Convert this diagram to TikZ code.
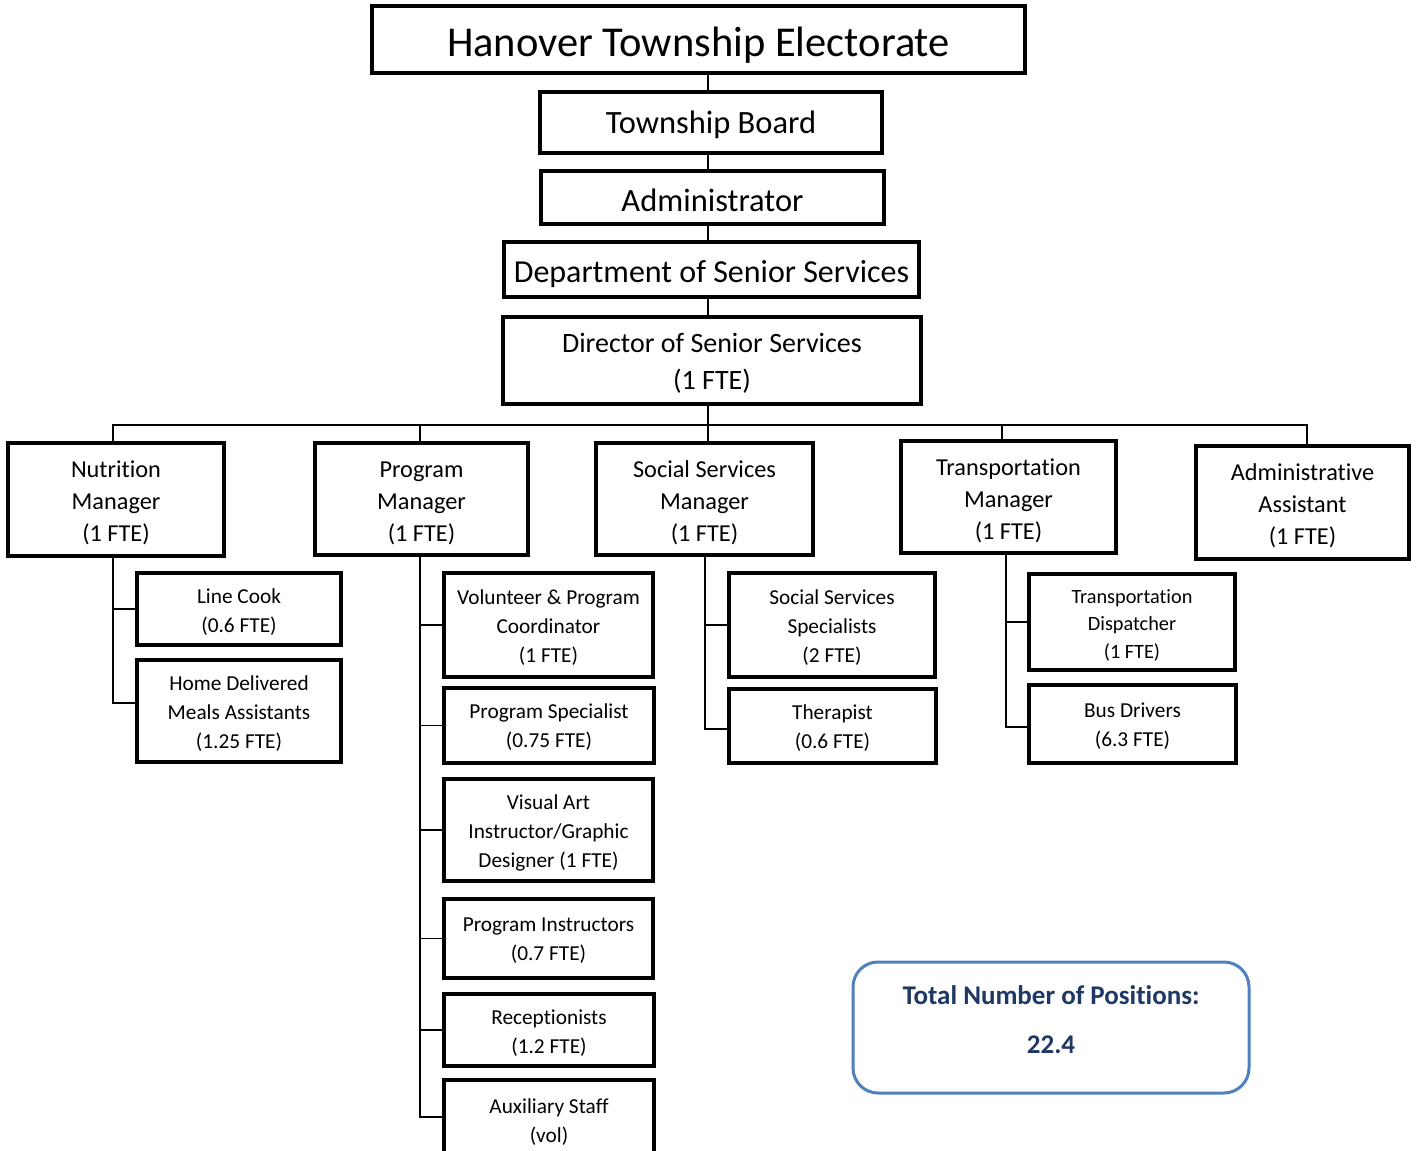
\documentclass[tikz,border=0pt]{standalone}
\usepackage{fontspec}
\setmainfont{Carlito}[Ligatures=NoCommon]
% centred block of lines, moved down by #1 without changing its size
\newcommand{\boxtext}[2][0pt]{\raisebox{-#1}[\height][\depth]{\begin{tabular}{@{}c@{}}#2\end{tabular}}}
\begin{document}
\begin{tikzpicture}[x=1pt,y=-1pt,
  box/.style={draw=black,line width=3.5pt,fill=white,rectangle,inner sep=0pt},
  topbox/.style={box,font=\fontsize{32.5}{40}\selectfont},
  mgr/.style={box,line width=3.8pt,font=\fontsize{24.3}{32}\selectfont},
  sub/.style={box,line width=3.3pt,font=\fontsize{21.3}{29}\selectfont},
  link/.style={draw=black,line width=1.8pt},
  total/.style={draw={rgb,255:red,79;green,129;blue,189},line width=3pt,rounded corners=25pt,
    rectangle,inner sep=0pt,text={rgb,255:red,31;green,56;blue,100},
    font=\fontsize{27}{49}\selectfont\bfseries}]
\clip (0,0) rectangle (1417,1151);
\fill[white] (0,0) rectangle (1417,1151);

% chain of command
\node[topbox,font=\fontsize{42.5}{52}\selectfont,minimum width=653,minimum height=67] (elect) at (698.5,39.5) {\boxtext[7pt]{Hanover Township Electorate}};
\node[topbox,minimum width=342,minimum height=61] (board) at (711,122.5) {\boxtext[3pt]{Township Board}};
\node[topbox,minimum width=343,minimum height=53] (admin) at (712.5,197.5) {\boxtext[6pt]{Administrator}};
\node[topbox,font=\fontsize{32}{40}\selectfont,minimum width=415,minimum height=55] (dept) at (711.5,269.5) {\boxtext[4.5pt]{Department of Senior Services}};
\node[topbox,font=\fontsize{28}{37}\selectfont,minimum width=418,minimum height=87] (dir) at (712,360.5) {\boxtext[3pt]{Director of Senior Services\\(1 FTE)}};

% managers
\node[mgr,minimum width=216,minimum height=113] (nm) at (116,499.5) {\boxtext[4pt]{Nutrition\\Manager\\(1 FTE)}};
\node[mgr,minimum width=213,minimum height=112] (pm) at (421.5,499) {\boxtext[4pt]{Program\\Manager\\(1 FTE)}};
\node[mgr,minimum width=217,minimum height=112] (sm) at (704.5,499) {\boxtext[4pt]{Social Services\\Manager\\(1 FTE)}};
\node[mgr,minimum width=215,minimum height=112] (tm) at (1008.5,497) {\boxtext[4pt]{Transportation\\Manager\\(1 FTE)}};
\node[mgr,minimum width=213,minimum height=113] (aa) at (1302.5,502.5) {\boxtext[4pt]{Administrative\\Assistant\\(1 FTE)}};

% staff
\node[sub,minimum width=204,minimum height=72] (lc) at (239,609) {\boxtext[3pt]{Line Cook\\(0.6 FTE)}};
\node[sub,minimum width=204,minimum height=102] (hd) at (239,711) {\boxtext[3pt]{Home Delivered\\Meals Assistants\\(1.25 FTE)}};

\node[sub,minimum width=209,minimum height=104] (vpc) at (548.5,625) {\boxtext[3pt]{Volunteer \& Program\\Coordinator\\(1 FTE)}};
\node[sub,minimum width=210,minimum height=75] (ps) at (549,725.5) {\boxtext[2pt]{Program Specialist\\(0.75 FTE)}};
\node[sub,minimum width=209,minimum height=102] (va) at (548.5,830) {\boxtext[3pt]{Visual Art\\Instructor/Graphic\\Designer (1 FTE)}};
\node[sub,minimum width=209,minimum height=79] (pi) at (548.5,938.5) {\boxtext[2pt]{Program Instructors\\(0.7 FTE)}};
\node[sub,minimum width=210,minimum height=72] (rc) at (549,1030) {\boxtext[3pt]{Receptionists\\(1.2 FTE)}};
\node[sub,minimum width=210,minimum height=84] (ax) at (549,1122) {\boxtext[0pt]{Auxiliary Staff\\(vol)}};

\node[sub,minimum width=206,minimum height=104] (sss) at (832,625) {\boxtext[3pt]{Social Services\\Specialists\\(2 FTE)}};
\node[sub,minimum width=207,minimum height=74] (th) at (832.5,726) {\boxtext[2pt]{Therapist\\(0.6 FTE)}};

\node[sub,font=\fontsize{20.3}{27.5}\selectfont,minimum width=206,minimum height=96] (td) at (1132,622) {\boxtext[3pt]{Transportation\\Dispatcher\\(1 FTE)}};
\node[sub,minimum width=207,minimum height=78] (bd) at (1132.5,724) {\boxtext[2pt]{Bus Drivers\\(6.3 FTE)}};

% summary
\node[total,minimum width=396,minimum height=131] (tot) at (1051,1027.5) {\boxtext[-8pt]{Total Number of Positions:\\22.4}};

% trunk lines
\coordinate (spine) at (708,0);
\coordinate (bus) at (0,425);
\coordinate (dn) at (113,0);
\coordinate (dp) at (420,0);
\coordinate (ds) at (705,0);
\coordinate (dt) at (1006,0);
\coordinate (ut) at (1002,0);
\coordinate (ua) at (1307,0);

\draw[link] (elect.south -| spine) -- (board.north -| spine);
\draw[link] (board.south -| spine) -- (admin.north -| spine);
\draw[link] (admin.south -| spine) -- (dept.north -| spine);
\draw[link] (dept.south -| spine) -- (dir.north -| spine);
\draw[link] (dir.south -| spine) -- (sm.north -| spine);
\draw[link] (nm.north -| dn) |- (ua |- bus) -- (aa.north -| ua);
\draw[link] (pm.north -| dp) -- (dp |- bus);
\draw[link] (tm.north -| ut) -- (ut |- bus);

\draw[link] (nm.south -| dn) |- (lc.west);
\draw[link] (nm.south -| dn) |- ([yshift=8]hd.west);
\draw[link] (pm.south -| dp) |- (vpc.west);
\draw[link] (pm.south -| dp) |- (ps.west);
\draw[link] (pm.south -| dp) |- (va.west);
\draw[link] (pm.south -| dp) |- (pi.west);
\draw[link] (pm.south -| dp) |- (rc.west);
\draw[link] (pm.south -| dp) |- ([yshift=5]ax.west);
\draw[link] (sm.south -| ds) |- (sss.west);
\draw[link] (sm.south -| ds) |- ([yshift=-3]th.west);
\draw[link] (tm.south -| dt) |- (td.west);
\draw[link] (tm.south -| dt) |- ([yshift=-3]bd.west);
\end{tikzpicture}
\end{document}
